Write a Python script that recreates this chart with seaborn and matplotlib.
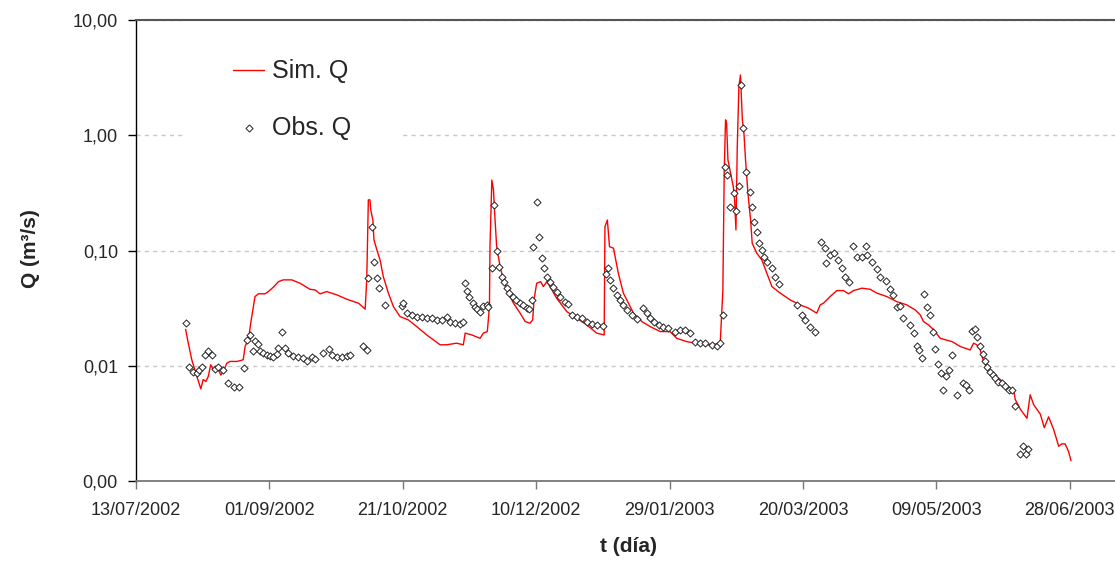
import numpy as np
import pandas as pd
import matplotlib
matplotlib.use("Agg")
import matplotlib.pyplot as plt
import matplotlib.dates as mdates
from matplotlib.ticker import FixedLocator, FuncFormatter, NullLocator
import seaborn as sns

# ---------------- data (days since 13/07/2002, Q in m3/s) ----------------
start_date = "2002-07-13"

sim_day = [18.6, 19.6, 20.9, 22.8, 24.3, 25.2, 26.2, 27.1, 28.0, 29.0, 30.5, 31.8, 33.0, 34.0,
           35.2, 37.8, 39.3, 40.2, 40.9, 41.7, 42.5, 43.0, 43.8, 44.6, 45.9, 48.4, 49.6, 51.5,
           53.4, 55.2, 58.4, 61.5, 65.2, 67.1, 69.0, 71.5, 75.3, 79.0, 83.4, 85.9, 86.5, 87.1,
           87.7, 88.0, 88.8, 89.2, 90.3, 91.5, 92.7, 94.6, 96.5, 99.0, 102.1, 105.2, 109.0,
           114.0, 116.5, 120.2, 122.7, 123.4, 125.9, 129.0, 130.2, 131.7, 132.5, 132.7, 133.4,
           134.0, 134.6, 135.2, 136.5, 137.7, 139.6, 141.5, 144.0, 145.9, 147.7, 148.7, 149.2,
           150.2, 151.7, 152.7, 154.0, 155.2, 157.7, 161.5, 165.2, 169.0, 172.7, 175.5, 175.8,
           176.7, 177.5, 179.0, 180.8, 182.7, 184.6, 186.5, 189.6, 192.7, 196.5, 200.2, 202.7,
           206.5, 209.6, 214.0, 219.0, 220.0, 220.5, 221.0, 221.4, 221.9, 222.9, 223.9, 224.4,
           224.9, 225.4, 226.0, 226.6, 226.9, 227.3, 227.9, 228.5, 229.4, 230.4, 231.0, 232.7,
           234.6, 236.5, 238.4, 241.5, 245.2, 249.0, 252.1, 255.2, 256.5, 257.7, 260.2, 262.7,
           265.2, 267.1, 269.0, 272.1, 275.2, 277.7, 281.5, 285.2, 289.0, 292.1, 294.0, 295.2,
           297.1, 299.0, 301.5, 305.9, 309.0, 312.7, 314.0, 315.2, 316.5, 317.7, 319.6, 321.5,
           324.0, 326.5, 329.0, 329.6, 331.5, 334.0, 335.2, 336.5, 339.0, 340.5, 342.1, 344.0,
           345.9, 347.1, 348.3, 349.6, 350.5]
sim_q = [0.0207, 0.0157, 0.0113, 0.0081, 0.0063, 0.0076, 0.0073, 0.0081, 0.0102, 0.0092, 0.0097,
         0.0083, 0.0092, 0.0105, 0.0109, 0.0109, 0.0111, 0.0113, 0.0147, 0.0162, 0.0192, 0.0234,
         0.0305, 0.0398, 0.0421, 0.0421, 0.0440, 0.0481, 0.0537, 0.0556, 0.0556, 0.0520, 0.0461,
         0.0455, 0.0421, 0.0440, 0.0412, 0.0378, 0.0349, 0.0310, 0.0556, 0.275, 0.275, 0.225,
         0.184, 0.124, 0.101, 0.0828, 0.0594, 0.0427, 0.0326, 0.0267, 0.0250, 0.0219, 0.0185,
         0.0152, 0.0152, 0.0157, 0.0152, 0.0192, 0.0185, 0.0173, 0.0192, 0.0198, 0.0326, 0.108,
         0.409, 0.336, 0.184, 0.108, 0.0725, 0.0556, 0.0427, 0.0349, 0.0286, 0.0242, 0.0234,
         0.0250, 0.0373, 0.0520, 0.0537, 0.0486, 0.0537, 0.0486, 0.0385, 0.0295, 0.0259, 0.0226,
         0.0192, 0.0185, 0.161, 0.184, 0.108, 0.1047, 0.0636, 0.0427, 0.0349, 0.0286, 0.0242,
         0.0219, 0.0198, 0.0198, 0.0173, 0.0162, 0.0157, 0.0152, 0.0155, 0.0455, 0.468, 1.36,
         1.27, 0.611, 0.468, 0.358, 0.275, 0.151, 0.796, 2.64, 3.33, 2.31, 1.36, 1.04, 0.611,
         0.314, 0.184, 0.1156, 0.0948, 0.0828, 0.0636, 0.0486, 0.0427, 0.0373, 0.0337, 0.0316,
         0.0286, 0.0337, 0.0349, 0.0398, 0.0449, 0.0449, 0.0421, 0.0449, 0.0471, 0.0461, 0.0427,
         0.0398, 0.0360, 0.0337, 0.0305, 0.0276, 0.0242, 0.0226, 0.0205, 0.0173, 0.0162, 0.0147,
         0.0137, 0.0157, 0.0152, 0.0137, 0.0109, 0.0092, 0.0083, 0.0076, 0.0066, 0.0062, 0.0051,
         0.0042, 0.0035, 0.0056, 0.0046, 0.0038, 0.0029, 0.0036, 0.0028, 0.0020, 0.0021, 0.0021,
         0.0018, 0.0015]

obs_day = [18.6, 20.0, 21.5, 22.8, 23.7, 24.6, 25.9, 27.1, 28.4, 29.6, 30.9, 32.5, 34.4, 36.7,
           38.7, 40.5, 41.5, 42.7, 44.0, 44.6, 45.9, 46.5, 47.7, 49.0, 50.2, 51.5, 52.8, 53.4,
           54.6, 55.9, 57.1, 59.0, 60.9, 62.7, 64.2, 65.9, 67.1, 70.2, 72.5, 73.4, 75.3, 77.1,
           79.0, 80.2, 85.2, 86.5, 87.1, 88.4, 89.2, 90.3, 91.2, 93.4, 99.6, 100.2, 101.5, 103.4,
           105.2, 107.1, 109.0, 110.9, 112.7, 114.6, 116.5, 117.7, 119.6, 121.5, 122.7, 123.4,
           124.2, 125.0, 126.2, 127.1, 128.0, 129.0, 130.2, 131.5, 132.1, 133.4, 134.2, 135.2,
           136.2, 137.2, 138.0, 139.0, 140.0, 141.2, 142.5, 144.0, 145.2, 146.5, 147.5, 148.4,
           149.0, 150.5, 151.2, 152.1, 153.1, 154.2, 155.2, 156.5, 157.7, 159.0, 160.9, 162.1,
           163.4, 165.2, 167.1, 169.0, 170.9, 172.7, 175.2, 176.2, 177.1, 177.7, 179.0, 180.2,
           181.5, 182.7, 184.0, 185.9, 187.7, 190.2, 191.5, 192.7, 194.0, 195.9, 197.7, 199.6,
           202.1, 204.0, 205.9, 207.7, 209.6, 211.5, 213.3, 215.9, 217.7, 219.0, 220.0, 220.9,
           221.7, 222.7, 224.0, 225.0, 225.9, 226.7, 227.7, 228.7, 230.0, 230.9, 231.8, 232.7,
           233.6, 234.6, 235.6, 236.7, 238.3, 239.6, 241.2, 247.7, 249.6, 250.9, 252.7, 254.6,
           256.7, 258.3, 258.7, 260.2, 261.7, 263.0, 264.6, 265.9, 267.1, 268.7, 270.2, 272.1,
           273.7, 274.2, 275.9, 277.7, 279.0, 281.2, 282.5, 283.7, 285.2, 286.5, 287.7, 290.2,
           291.5, 292.7, 293.7, 294.6, 295.5, 296.5, 297.7, 298.7, 299.6, 300.8, 301.7, 302.5,
           303.7, 304.6, 305.9, 307.7, 310.0, 311.1, 312.3, 313.3, 314.6, 315.4, 316.5, 317.5,
           318.3, 319.2, 320.2, 321.2, 322.1, 323.3, 324.6, 325.8, 327.1, 328.4, 329.6, 331.5,
           332.5, 333.6, 334.2]
obs_q = [0.0237, 0.0097, 0.0089, 0.0086, 0.0091, 0.0097, 0.0125, 0.0133, 0.0125, 0.0093, 0.0097,
         0.0091, 0.0071, 0.0065, 0.0066, 0.0095, 0.0168, 0.0185, 0.0135, 0.0164, 0.0155, 0.0133,
         0.0129, 0.0125, 0.0122, 0.0119, 0.0127, 0.0142, 0.0198, 0.0142, 0.0129, 0.0122, 0.0120,
         0.0116, 0.0111, 0.0120, 0.0114, 0.0129, 0.0139, 0.0125, 0.0119, 0.0119, 0.0122, 0.0125,
         0.0149, 0.0136, 0.0575, 0.161, 0.0802, 0.0575, 0.0471, 0.0337, 0.0331, 0.0353, 0.0289,
         0.0276, 0.0267, 0.0267, 0.0259, 0.0259, 0.0250, 0.0250, 0.0267, 0.0242, 0.0234, 0.0231,
         0.0242, 0.0527, 0.0447, 0.0394, 0.0349, 0.0322, 0.0310, 0.0295, 0.0331, 0.0337, 0.0326,
         0.0703, 0.249, 0.0993, 0.0716, 0.0594, 0.0537, 0.0471, 0.0427, 0.0398, 0.0373, 0.0353,
         0.0337, 0.0316, 0.0310, 0.0373, 0.108, 0.262, 0.130, 0.0857, 0.0703, 0.0594, 0.0537,
         0.0486, 0.0440, 0.0398, 0.0360, 0.0344, 0.0276, 0.0267, 0.0259, 0.0242, 0.0231, 0.0226,
         0.0222, 0.0627, 0.0703, 0.0556, 0.0471, 0.0412, 0.0373, 0.0337, 0.0305, 0.0276, 0.0254,
         0.0316, 0.0286, 0.0259, 0.0242, 0.0226, 0.0219, 0.0212, 0.0198, 0.0205, 0.0205, 0.0192,
         0.0162, 0.0157, 0.0157, 0.0152, 0.0147, 0.0159, 0.0276, 0.534, 0.453, 0.240, 0.314,
         0.222, 0.363, 2.73, 1.15, 0.483, 0.324, 0.240, 0.178, 0.146, 0.117, 0.101, 0.0875,
         0.0802, 0.0703, 0.0594, 0.0513, 0.0337, 0.0276, 0.0250, 0.0219, 0.0198, 0.119, 0.1047,
         0.0776, 0.0916, 0.0948, 0.0828, 0.0703, 0.0586, 0.0537, 0.110, 0.0875, 0.0886, 0.110,
         0.0916, 0.0802, 0.0691, 0.0594, 0.0548, 0.0461, 0.0412, 0.0322, 0.0331, 0.0259, 0.0226,
         0.0192, 0.0147, 0.0136, 0.0116, 0.0421, 0.0322, 0.0276, 0.0198, 0.0139, 0.0104, 0.0087,
         0.0061, 0.0082, 0.0091, 0.0125, 0.0056, 0.0071, 0.0068, 0.0062, 0.0201, 0.0207, 0.0179,
         0.0147, 0.0127, 0.0109, 0.0098, 0.0089, 0.0083, 0.0078, 0.0073, 0.0071, 0.0067, 0.0062,
         0.0062, 0.0045, 0.0017, 0.0020, 0.0017, 0.0019]

tick_days = [0, 50, 100, 150, 200, 250, 300, 350]
y_ticks = [0.001, 0.01, 0.1, 1.0, 10.0]
x_end_day = 367

# ---------------- frames ----------------
base = pd.Timestamp(start_date)
sim_df = pd.DataFrame({"t": base + pd.to_timedelta(sim_day, unit="D"), "Q": sim_q})
obs_df = pd.DataFrame({"t": base + pd.to_timedelta(obs_day, unit="D"), "Q": obs_q})

sns.set_style("white")
plt.rcParams["font.family"] = ["Liberation Sans", "DejaVu Sans"]

fig = plt.figure(figsize=(11.15, 5.63), dpi=100)
ax = fig.add_axes([136 / 1115, 1 - 481 / 563, 979 / 1115, 461 / 563])

sns.lineplot(data=sim_df, x="t", y="Q", ax=ax, color="#ff0000", lw=1.0,
             estimator=None, sort=False, label="Sim. Q", zorder=3)
sns.scatterplot(data=obs_df, x="t", y="Q", ax=ax, marker="D", s=13,
                facecolor="white", edgecolor="#222222", linewidth=0.7,
                label="Obs. Q", zorder=4)

ax.set_yscale("log")
ax.set_ylim(0.001, 10)
ax.set_xlim(base, base + pd.Timedelta(days=x_end_day))

ax.yaxis.set_major_locator(FixedLocator(y_ticks))
ax.yaxis.set_minor_locator(NullLocator())
ax.yaxis.set_major_formatter(FuncFormatter(lambda v, _: f"{v:.2f}".replace(".", ",")))
tick_dates = [base + pd.Timedelta(days=d) for d in tick_days]
ax.xaxis.set_major_locator(FixedLocator(mdates.date2num(tick_dates)))
ax.xaxis.set_major_formatter(mdates.DateFormatter("%d/%m/%Y"))

ax.set_axisbelow(True)
ax.yaxis.grid(True, color="#c8c8c8", linestyle=(0, (3, 3)), lw=1.0)
ax.xaxis.grid(False)

ax.spines["right"].set_visible(False)
ax.spines["left"].set_color("black")
ax.spines["left"].set_linewidth(1.0)
ax.spines["bottom"].set_color("#777777")
ax.spines["bottom"].set_linewidth(1.3)
ax.spines["top"].set_color("#555555")
ax.spines["top"].set_linewidth(1.5)

ax.tick_params(axis="y", which="major", direction="out", length=6, width=1,
               color="black", labelsize=13, pad=7, left=True)
ax.tick_params(axis="x", which="major", direction="out", length=6, width=1,
               color="#777777", labelsize=13, pad=9, bottom=True)

ax.set_ylabel("Q (m³/s)", fontsize=15, fontweight="bold")
ax.set_xlabel("t (día)", fontsize=15, fontweight="bold")
ax.yaxis.set_label_coords(-0.098, 0.505)
ax.xaxis.set_label_coords(0.503, -0.122)

leg = ax.legend(loc="upper left", bbox_to_anchor=(0.048, 1.023), borderaxespad=0,
                fontsize=18, frameon=True, facecolor="white", edgecolor="none",
                framealpha=1, borderpad=2.0, handlelength=1.25, handletextpad=0.3,
                labelspacing=1.3, markerscale=1.0)
leg.set_zorder(2.2)

fig.savefig("out.png", dpi=100)
